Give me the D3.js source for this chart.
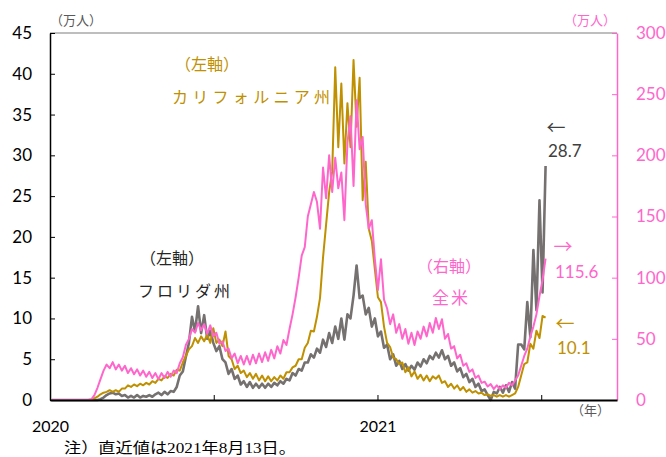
<!DOCTYPE html>
<html lang="ja">
<head>
<meta charset="UTF-8">
<title>新規感染者数</title>
<script src="https://cdnjs.cloudflare.com/ajax/libs/d3/7.8.5/d3.min.js"></script>
<style>
  body { margin: 0; background: #fff; }
  svg { display: block; }
  .tick text { font-family: Lato, "Noto Sans CJK JP", sans-serif; }
  .jp { font-family: "Noto Sans CJK JP", sans-serif; }
</style>
</head>
<body>
<svg id="CHART"></svg>
<script>
// ==================================================================
// data (万人), one sample every 3.5 days, day 0 = 2020-01-22, last = 2021-08-13
const sampleDays = d3.range(2, 570, 3.5);

// フロリダ州 (左軸)
const florida = [
  0,0,0,0,0,0,0,0,0,0,0,0,0,0,0,0,
  0.1,0.3,0.6,0.8,0.9,0.7,0.8,0.5,
  0.6,0.3,0.5,0.3,0.6,0.3,0.5,0.4,0.6,0.4,0.7,
  0.9,0.6,1.0,0.7,1.1,1.0,1.6,3.0,3.5,5.3,
  7.0,10.2,8.4,11.5,8.2,10.4,7.5,8.5,7.0,
  6.0,6.6,5.0,4.6,3.2,3.8,2.6,3.0,1.9,2.3,
  1.6,2.2,1.5,2.0,1.5,2.0,1.5,2.0,1.6,2.1,
  1.8,2.3,2.0,2.6,2.4,3.3,3.0,3.8,3.6,4.6,
  4.6,5.6,5.2,6.3,5.8,7.4,6.5,8.2,7.0,9.0,
  7.5,10.0,7.4,10.5,10.0,12.8,16.5,12.5,12.8,10.5,
  11.3,9.0,10.0,7.8,8.4,6.4,6.8,5.0,5.6,4.2,
  4.8,3.8,4.4,3.6,4.2,3.7,4.6,4.1,5.0,4.5,
  5.4,5.0,5.8,5.2,6.1,5.0,5.4,4.2,4.6,3.5,
  3.9,2.8,3.2,2.2,2.6,1.6,2.0,1.1,1.3,0.6,
  0.0,1.0,0.8,1.6,0.9,1.8,1.0,2.2,1.4,6.8,
  6.8,6.2,12.0,7.7,18.4,11.0,24.5,13.2,28.7
];

// カリフォルニア州 (左軸)
const california = [
  0,0,0,0,0,0,0,0,0,0,0,0,0,
  0.05,0.2,0.4,0.7,0.9,1.0,1.2,1.0,1.2,1.0,
  1.4,1.4,1.8,1.6,1.9,1.7,2.0,1.8,2.1,1.9,
  2.3,2.1,2.6,2.4,2.9,2.7,3.2,3.0,3.7,3.6,
  4.6,5.4,6.2,6.6,7.6,7.0,7.8,7.2,8.0,7.0,
  8.8,7.0,7.4,6.6,8.4,5.4,5.0,3.8,4.2,3.3,
  3.6,2.8,3.3,2.6,3.2,2.4,3.0,2.3,2.9,2.3,
  2.8,2.4,3.0,2.6,3.4,3.4,4.0,4.2,5.0,5.0,
  6.4,7.0,8.5,8.4,10.2,12.5,17.5,21.5,25.5,28.0,
  40.8,31.0,38.8,29.0,36.4,31.0,41.7,33.5,39.5,24.5,
  29.2,21.0,19.5,16.0,12.6,12.0,9.0,7.0,6.5,5.2,
  5.0,4.4,4.6,3.4,4.0,2.9,3.5,2.6,3.1,2.4,
  3.0,2.3,2.9,2.6,3.0,2.1,2.3,1.6,2.0,1.4,
  1.8,1.2,1.6,1.0,1.3,0.9,1.1,0.8,0.9,0.6,
  0.7,0.5,0.6,0.4,0.6,0.4,0.6,0.4,0.6,0.8,
  1.6,3.0,4.4,4.6,6.9,6.3,8.5,7.6,10.3,10.1
];

// 全米 (右軸)
const usTotal = [
  0,0,0,0,0,0,0,0,0,0,0,0,0,
  0.5,4,10,17,24,29,26,31,25,29,
  24,28,22,26,21,25,20,24,19,23,
  18,22,17,22,18,23,19,24,22,30,
  35,45,50,58,55,63,57,62,54,61,
  52,55,46,48,40,42,34,38,30,36,
  29,36,29,37,30,38,31,39,32,41,
  34,44,38,49,45,58,70,84,100,118,
  125,150,160,170,162,140,190,165,200,170,
  198,173,186,147,210,232,175,245,205,215,
  160,140,147,115,90,115,82,75,62,70,
  55,62,50,58,46,55,45,56,50,60,
  52,63,55,67,58,66,50,54,42,44,
  34,37,28,30,23,25,18,20,14,15,
  11,13,9,12,9,12,10,14,12,16,
  20,28,36,42,52,60,70,85,98,115.6
];

const leftTicks = [0, 5, 10, 15, 20, 25, 30, 35, 40, 45];
const rightTicks = [0, 50, 100, 150, 200, 250, 300];
const xTickDays = [0, 188, 376, 564];
const xTickLabels = ["2020", "", "2021", ""];
const axisDays = 651;

// ==================================================================
const width = 666;
const height = 457;
const plot = { left: 50, right: 617, top: 33, bottom: 400 };

const GRAY = "#767171";
const GOLD = "#BF9000";
const PINK = "#FF66CC";

const svg = d3.select("#CHART")
    .attr("width", width)
    .attr("height", height)
    .attr("viewBox", [0, 0, width, height]);

svg.append("rect").attr("width", width).attr("height", height).attr("fill", "#fff");

const x = d3.scaleLinear().domain([0, axisDays]).range([plot.left, plot.right]);
const yLeft = d3.scaleLinear().domain([0, 45]).range([plot.bottom, plot.top]);
const yRight = d3.scaleLinear().domain([0, 300]).range([plot.bottom, plot.top]);

// top border of plot area
svg.append("line")
    .attr("x1", plot.left).attr("x2", plot.right)
    .attr("y1", plot.top).attr("y2", plot.top)
    .attr("stroke", "#7f7f7f").attr("stroke-width", 1.2);

// lines
const lineL = d3.line().x((d, i) => x(sampleDays[i])).y(d => yLeft(d));
const lineR = d3.line().x((d, i) => x(sampleDays[i])).y(d => yRight(d));

const series = [
    { data: florida, line: lineL, color: GRAY, w: 2.6 },
    { data: california, line: lineL, color: GOLD, w: 2 },
    { data: usTotal, line: lineR, color: PINK, w: 2 }
];

svg.append("g")
    .selectAll("path")
    .data(series)
    .join("path")
    .attr("d", d => d.line(d.data))
    .attr("fill", "none")
    .attr("stroke", d => d.color)
    .attr("stroke-width", d => d.w)
    .attr("stroke-linejoin", "round");

// axes
const axL = svg.append("g")
    .attr("transform", `translate(${plot.left},0)`)
    .call(d3.axisLeft(yLeft).tickValues(leftTicks).tickSizeInner(-5).tickSizeOuter(0).tickPadding(18));
axL.select(".domain").attr("stroke", "#000").attr("stroke-width", 1.5);
axL.selectAll(".tick line").attr("stroke", "#000");
axL.selectAll(".tick text").attr("font-size", 17).attr("fill", "#000");

const axR = svg.append("g")
    .attr("transform", `translate(${plot.right},0)`)
    .call(d3.axisRight(yRight).tickValues(rightTicks).tickSizeInner(-5).tickSizeOuter(0).tickPadding(19));
axR.select(".domain").attr("stroke", PINK).attr("stroke-width", 1.5);
axR.selectAll(".tick line").attr("stroke", PINK);
axR.selectAll(".tick text").attr("font-size", 17).attr("fill", PINK);

const axB = svg.append("g")
    .attr("transform", `translate(0,${plot.bottom})`)
    .call(d3.axisBottom(x).tickValues(xTickDays).tickSizeInner(-5).tickSizeOuter(0).tickPadding(21)
        .tickFormat((d, i) => xTickLabels[i]));
axB.select(".domain").attr("stroke", "#000").attr("stroke-width", 1.8);
axB.selectAll(".tick line").attr("stroke", "#000");
axB.selectAll(".tick text").attr("font-size", 16).attr("fill", "#000");

// texts
const texts = [
    { t: "（万人）", x: plot.left, y: 25, c: "#595959", s: 13, a: "start" },
    { t: "（万人）", x: plot.right - 1, y: 25, c: PINK, s: 13, a: "end" },
    { t: "（年）", x: 610, y: 415, c: "#595959", s: 13, a: "end" },
    { t: "（左軸）", x: 207, y: 70, c: GOLD, s: 16, a: "middle" },
    { t: "カリフォルニア州", x: 251, y: 103, c: GOLD, s: 16, a: "middle", len: 158 },
    { t: "（左軸）", x: 172, y: 264, c: "#262626", s: 16, a: "middle" },
    { t: "フロリダ州", x: 184, y: 297, c: "#262626", s: 16, a: "middle", len: 92 },
    { t: "（右軸）", x: 449, y: 272, c: PINK, s: 16, a: "middle" },
    { t: "全米", x: 450, y: 304, c: PINK, s: 17, a: "middle", len: 36 },
    { t: "←", x: 556, y: 135, c: "#404040", s: 19, a: "middle" },
    { t: "→", x: 563, y: 254, c: PINK, s: 19, a: "middle" },
    { t: "←", x: 565, y: 331, c: GOLD, s: 19, a: "middle" }
];

svg.append("g")
    .selectAll("text")
    .data(texts)
    .join("text")
    .attr("class", "jp")
    .attr("x", d => d.x)
    .attr("y", d => d.y)
    .attr("fill", d => d.c)
    .attr("font-size", d => d.s)
    .attr("text-anchor", d => d.a)
    .attr("textLength", d => d.len || null)
    .attr("lengthAdjust", "spacing")
    .text(d => d.t);

// latest values
const latest = [
    { v: florida[florida.length - 1], x: 548, y: 157, c: "#404040" },
    { v: usTotal[usTotal.length - 1], x: 555, y: 278, c: PINK },
    { v: california[california.length - 1], x: 557, y: 354, c: GOLD }
];

svg.append("g")
    .selectAll("text")
    .data(latest)
    .join("text")
    .attr("x", d => d.x)
    .attr("y", d => d.y)
    .attr("fill", d => d.c)
    .attr("font-family", "Lato, sans-serif")
    .attr("font-size", 17)
    .text(d => d.v.toFixed(1));

// note
svg.append("text")
    .attr("x", 64)
    .attr("y", 453)
    .attr("font-family", "'Liberation Serif', 'Noto Sans CJK JP', serif")
    .attr("font-size", 15)
    .attr("fill", "#000")
    .attr("textLength", 232)
    .attr("lengthAdjust", "spacingAndGlyphs")
    .text("注）直近値は2021年8月13日。");
</script>
</body>
</html>
